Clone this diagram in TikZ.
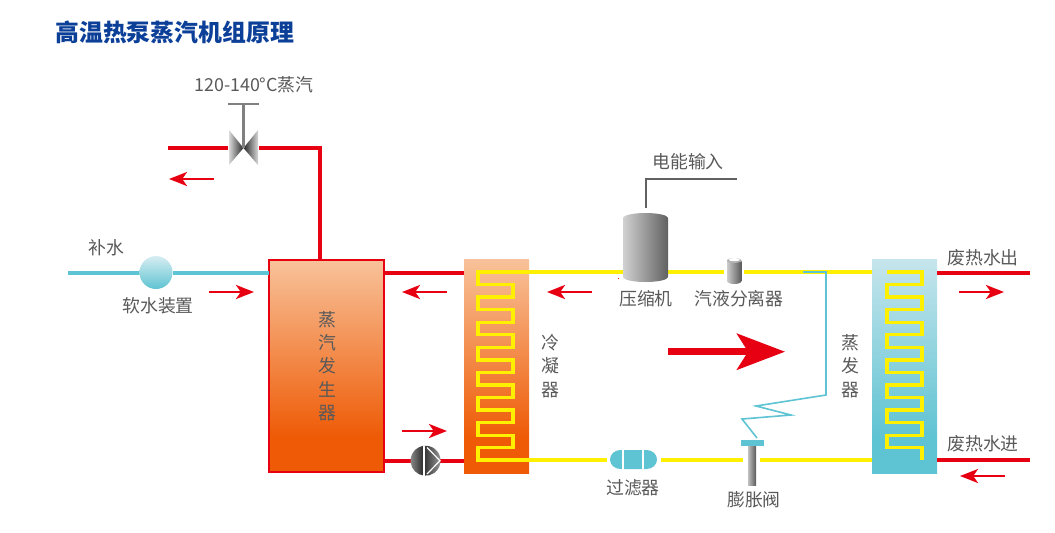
\documentclass[tikz,border=0pt]{standalone}
\usepackage{fontspec}
\setmainfont{Noto Sans CJK SC}
\usetikzlibrary{arrows.meta}
\definecolor{pipered}{HTML}{E60012}
\definecolor{pipeyel}{HTML}{FFF000}
\definecolor{teal}{HTML}{5EC3D2}
\definecolor{labelgray}{HTML}{595959}
\definecolor{titleblue}{HTML}{0B3F98}
\definecolor{hott}{HTML}{F8C29A}
\definecolor{hotb}{HTML}{EE5A05}
\definecolor{coolt}{HTML}{C6E5EC}
\definecolor{coolb}{HTML}{5EC3D2}
\pgfdeclareverticalshading{hotgrad}{100bp}{color(0bp)=(hotb); color(33bp)=(hotb); color(75bp)=(hott); color(100bp)=(hott)}
\pgfdeclareverticalshading{coolgrad}{100bp}{color(0bp)=(coolb); color(33bp)=(coolb); color(75bp)=(coolt); color(100bp)=(coolt)}
\tikzset{
  x=0.75pt,y=-0.75pt,
  redpipe/.style={draw=pipered,line width=3pt,line join=miter},
  yelpipe/.style={draw=pipeyel,line width=2.45pt},
  coil/.style={draw=pipeyel,line width=2.45pt,line join=miter},
  tealpipe/.style={draw=teal,line width=3pt},
  signal/.style={draw=teal,line width=1.2pt},
  flow/.style={draw=pipered,line width=2.2pt,-{Stealth[length=13.5pt,width=10.5pt,inset=3.6pt]}},
  bigflow/.style={draw=pipered,line width=5pt,-{Stealth[length=36pt,width=27pt,inset=8.3pt]}},
  lbl/.style={text=labelgray,font=\fontsize{13.4pt}{15pt}\selectfont,inner sep=0pt},
  vlbl/.style={lbl,align=center,font=\fontsize{13.4pt}{17.5pt}\selectfont},
  box/.style={inner sep=0pt,outer sep=0pt,rectangle},
}
\begin{document}
\begin{tikzpicture}
\useasboundingbox (0,0) rectangle (1055,532);
% named free ends
\coordinate (steamend) at (168,148);
\coordinate (valvec) at (243.5,148);
\coordinate (corner) at (320,148);
\coordinate (makeup) at (68,272.5);
\coordinate (hotout) at (1030,272.5);
\coordinate (hotin) at (1030,460);
\coordinate (compc) at (645.5,272);
\coordinate (sepc) at (734,272);
\coordinate (tap) at (803,272);
\coordinate (tapc) at (826,272);
% vessels
\node[box,minimum width=115.5*0.75pt,minimum height=212.5*0.75pt,shading=hotgrad,draw=pipered,line width=1.5pt] (gen) at (326.5,366) {};
\node[box,minimum width=65*0.75pt,minimum height=214*0.75pt,shading=hotgrad] (cond) at (496.5,366) {};
\node[box,minimum width=65*0.75pt,minimum height=214*0.75pt,shading=coolgrad] (evap) at (904.5,366) {};
% devices as anchors
\node[circle,minimum size=33*0.75pt,inner sep=0pt,top color=coolt!70!white,bottom color=coolb] (soft) at (156,272.5) {};
\coordinate (filterc) at (633.5,460);
\coordinate (expc) at (752,460);
\coordinate (pump) at (425.7,460.7);
% water/steam pipes
\draw[tealpipe] (makeup) -- (soft);
\draw[tealpipe] (soft) -- (gen.west |- soft);
\draw[redpipe] (steamend) -- (valvec) -- (corner) -- (corner |- gen.north);
\draw[redpipe] (gen.east |- 0,272.5) -- (cond.west |- 0,272.5);
\draw[redpipe] (gen.east |- pump) -- (pump);
\draw[redpipe] (pump) -- (cond.west |- pump);
\draw[redpipe] (evap.east |- hotout) -- (hotout);
\draw[redpipe] (evap.east |- hotin) -- (hotin);
% refrigerant
\draw[yelpipe] (cond.east |- compc) -- (compc);
\draw[yelpipe] (compc) -- (sepc);
\draw[yelpipe] (sepc) -- (evap.west |- sepc);
\draw[yelpipe] (cond.east |- filterc) -- (filterc);
\draw[yelpipe] (filterc) -- (expc);
\draw[yelpipe] (expc) -- (evap.west |- expc);
% coils
\draw[coil] (529,272) -- (478,272) -- (478,284.6) -- (513,284.6) -- (513,297.1) -- (478,297.1) -- (478,309.7) -- (513,309.7) -- (513,322.2) -- (478,322.2) -- (478,334.8) -- (513,334.8) -- (513,347.3) -- (478,347.3) -- (478,359.9) -- (513,359.9) -- (513,372.4) -- (478,372.4) -- (478,385) -- (513,385) -- (513,397.5) -- (478,397.5) -- (478,410.1) -- (513,410.1) -- (513,422.6) -- (478,422.6) -- (478,435.2) -- (513,435.2) -- (513,447.7) -- (478,447.7) -- (478,460) -- (529,460);
\draw[coil] (887,272) -- (922,272) -- (922,284.6) -- (887,284.6) -- (887,297.1) -- (922,297.1) -- (922,309.7) -- (887,309.7) -- (887,322.2) -- (922,322.2) -- (922,334.8) -- (887,334.8) -- (887,347.3) -- (922,347.3) -- (922,359.9) -- (887,359.9) -- (887,372.4) -- (922,372.4) -- (922,385) -- (887,385) -- (887,397.5) -- (922,397.5) -- (922,410.1) -- (887,410.1) -- (887,422.6) -- (922,422.6) -- (922,435.2) -- (887,435.2) -- (887,447.7) -- (922,447.7) -- (922,460);
% capillary
\draw[signal] (tap) -- (tapc) -- (826,395) -- (756,406) -- (791,415) -- (742,419) -- (757,438);
% valve
\fill[white] (228,128) rectangle (259,167);
\draw[draw=black!50,line width=1.9pt] (228,104) -- (259,104);
\shade[left color=black!15,right color=black!85] (229,130) -- (243.5,148) -- (229,165) -- cycle;
\shade[left color=black!85,right color=black!15] (258,130) -- (243.5,148) -- (258,165) -- cycle;
\draw[draw=black!50,line width=2.2pt] (243.5,104) -- (243.5,148);
% compressor
\shade[left color=black!18,right color=black!62] (623,218) arc[x radius=22.5,y radius=5,start angle=180,end angle=360] -- (668,277) arc[x radius=22.5,y radius=5,start angle=0,end angle=180] -- cycle;
\fill[pipered] (617.5,277.5) rectangle (618.5,278.5);
\draw[draw=black!62,line width=1.5pt] (645.5,208) -- (645.5,179.3) -- (737,179.3);
% separator
\fill[white] (724,254) rectangle (743.5,288);
\shade[left color=black!20,right color=black!65] (727,261) -- (741.5,261) -- (741.5,281) arc[x radius=7.25,y radius=3,start angle=0,end angle=180] -- cycle;
\fill[black!30] (734.25,260.5) ellipse[x radius=7.25,y radius=2.4];
\fill[white] (734.25,259.6) ellipse[x radius=5.6,y radius=1.6];
% filter
\fill[white] (607,448) rectangle (661,471);
\fill[teal] (620.5,450) -- (646.5,450) arc[x radius=10.5,y radius=9.5,start angle=-90,end angle=90] -- (620.5,469) arc[x radius=10.5,y radius=9.5,start angle=90,end angle=270] -- cycle;
\draw[white,line width=0.8pt] (623,449) -- (623,470) (643,449) -- (643,470);
% expansion valve
\fill[white] (743,446) rectangle (760,488);
\fill[teal] (741,440) rectangle (764,446);
\shade[left color=black!25,right color=black!65] (748,446) rectangle (756,485);
% pump
\shade[left color=black!45,right color=black!85] (424,445.8) arc[radius=15,start angle=-96,end angle=-264] -- cycle;
\shade[left color=black!80,right color=black!40] (424,445.8) arc[radius=15,start angle=-96,end angle=96] -- cycle;
\draw[white,line width=0.9pt] (424,445.5) -- (424,476);
\draw[white,line width=0.9pt] (427,447.5) -- (440,460.7) -- (427,474);
% arrows
\coordinate (a1s) at (214,179); \coordinate (a1e) at (169,179);
\coordinate (a2s) at (209,292); \coordinate (a2e) at (254,292);
\coordinate (a3s) at (447,292); \coordinate (a3e) at (402,292);
\coordinate (a4s) at (592,292); \coordinate (a4e) at (547,292);
\coordinate (a5s) at (402,431); \coordinate (a5e) at (447,431);
\coordinate (a6s) at (959,292); \coordinate (a6e) at (1004,292);
\coordinate (a7s) at (1005,476); \coordinate (a7e) at (960,476);
\coordinate (a8s) at (668,351.7); \coordinate (a8e) at (785,351.7);
\foreach \s/\e in {a1s/a1e,a2s/a2e,a3s/a3e,a4s/a4e,a5s/a5e,a6s/a6e,a7s/a7e}{\draw[flow] (\s) -- (\e);}
\draw[bigflow] (a8s) -- (a8e);
% labels
\node[anchor=west,text=titleblue,inner sep=0pt,font=\bfseries\fontsize{17.9pt}{20pt}\selectfont] (title) at (55,32) {高温热泵蒸汽机组原理};
\node[lbl] (t1) at (254,85) {120-140°C蒸汽};
\node[lbl] (t2) at (106,248) {补水};
\node[lbl] (t3) at (158,306) {软水装置};
\node[vlbl] (t4) at (327,366) {蒸\\汽\\发\\生\\器};
\node[vlbl] (t5) at (550,366) {冷\\凝\\器};
\node[vlbl] (t6) at (850,366) {蒸\\发\\器};
\node[lbl] (t7) at (646,299) {压缩机};
\node[lbl] (t8) at (739,299) {汽液分离器};
\node[lbl] (t9) at (688,162) {电能输入};
\node[lbl] (t10) at (633,488) {过滤器};
\node[lbl] (t11) at (754,500) {膨胀阀};
\node[lbl] (t12) at (983,258) {废热水出};
\node[lbl] (t13) at (983,444) {废热水进};
\end{tikzpicture}
\end{document}
